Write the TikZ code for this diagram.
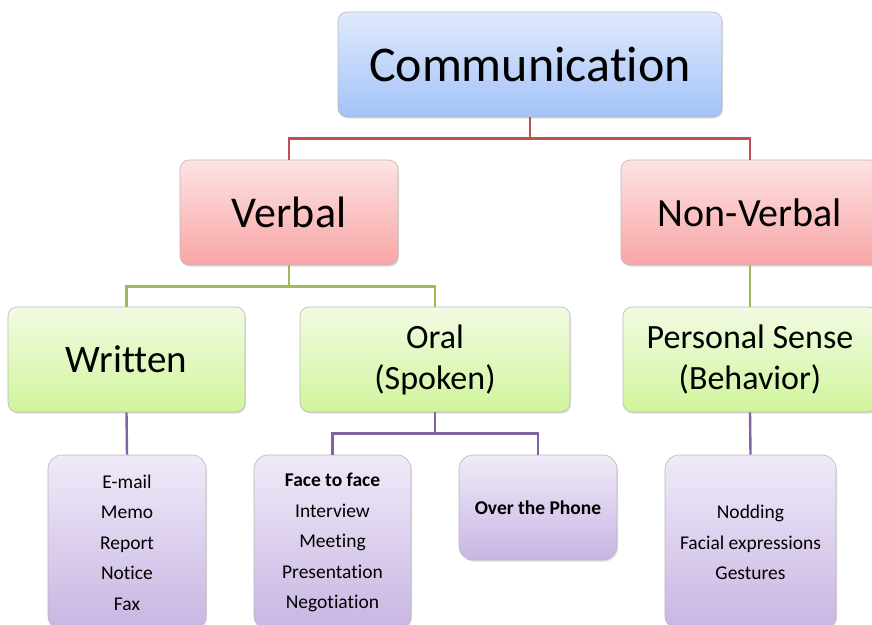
\documentclass[tikz,border=0pt]{standalone}
\usepackage{fontspec}
\setmainfont[Ligatures=NoCommon]{Carlito}
\usetikzlibrary{shadows}
\definecolor{blueTop}{HTML}{E0EAFC}
\definecolor{blueBot}{HTML}{A3C2F8}
\definecolor{redTop}{HTML}{FDE3E3}
\definecolor{redBot}{HTML}{F8A5A5}
\definecolor{greenTop}{HTML}{F2FBE2}
\definecolor{greenBot}{HTML}{D0F59C}
\definecolor{purpleTop}{HTML}{F0EAF8}
\definecolor{purpleBot}{HTML}{C8B5E3}
\definecolor{redline}{HTML}{C0504D}
\definecolor{greenline}{HTML}{9BBB59}
\definecolor{purpleline}{HTML}{8064A2}

\begin{document}
\begin{tikzpicture}[x=1pt, y=-1pt,
    box/.style={draw=gray!55, line width=0.6pt, rounded corners=9pt, align=center, inner sep=0pt,
        drop shadow={opacity=0.25, shadow xshift=1pt, shadow yshift=-1.5pt}},
    bluebox/.style={box, top color=blueTop, bottom color=blueBot},
    redbox/.style={box, top color=redTop, bottom color=redBot},
    greenbox/.style={box, top color=greenTop, bottom color=greenBot},
    purplebox/.style={box, rounded corners=14pt, top color=purpleTop, bottom color=purpleBot,
        font=\fontsize{19.5}{30.5}\selectfont},
    link/.style={line width=2.4pt}]
    \useasboundingbox (0,0) rectangle (872,624);
    \clip (0,0) rectangle (872,624);

    % top level
    \node[bluebox, minimum width=384pt, minimum height=105pt, font=\fontsize{50}{51}\selectfont]
        at (530, 64.5) (comm) {Communication};

    % second level
    \node[redbox, minimum width=218pt, minimum height=105pt, font=\fontsize{44}{45}\selectfont]
        at (289, 212.5) (verbal) {Verbal};
    \node[redbox, minimum width=258pt, minimum height=105pt, font=\fontsize{40}{41}\selectfont]
        at (750, 212.5) (nonverbal) {Non-Verbal};

    % third level
    \node[greenbox, minimum width=237pt, minimum height=105pt, font=\fontsize{39}{40}\selectfont]
        at (126.5, 359.5) (written) {Written};
    \node[greenbox, minimum width=270pt, minimum height=105pt, font=\fontsize{34}{41}\selectfont]
        at (435, 359.5) (oral) {Oral\\(Spoken)};
    \node[greenbox, minimum width=254pt, minimum height=105pt, font=\fontsize{34}{41}\selectfont]
        at (750, 359.5) (personal) {Personal Sense\\(Behavior)};

    % lists
    \node[purplebox, minimum width=158pt, minimum height=175pt]
        at (127, 542.5) (writtenlist) {E-mail\\Memo\\Report\\Notice\\Fax};
    \node[purplebox, minimum width=157pt, minimum height=175pt]
        at (332.5, 542.5) (face) {\textbf{Face to face}\\Interview\\Meeting\\Presentation\\Negotiation};
    \node[purplebox, minimum width=158pt, minimum height=105pt]
        at (538, 507.5) (phone) {\textbf{Over the Phone}};
    \node[purplebox, minimum width=171pt, minimum height=175pt]
        at (750.5, 542.5) (behavior) {Nodding\\Facial expressions\\Gestures};

    % connectors
    \draw[link, redline] (comm.south) -- ++(0,21) -| (verbal.north);
    \draw[link, redline] (comm.south) -- ++(0,21) -| (nonverbal.north);
    \draw[link, greenline] (verbal.south) -- ++(0,21) -| (written.north);
    \draw[link, greenline] (verbal.south) -- ++(0,21) -| (oral.north);
    \draw[link, greenline] (nonverbal.south) -- (personal.north);
    \draw[link, purpleline] (written.south) -- (writtenlist.north);
    \draw[link, purpleline] (oral.south) -- ++(0,21) -| (face.north);
    \draw[link, purpleline] (oral.south) -- ++(0,21) -| (phone.north);
    \draw[link, purpleline] (personal.south) -- (behavior.north);
\end{tikzpicture}
\end{document}
